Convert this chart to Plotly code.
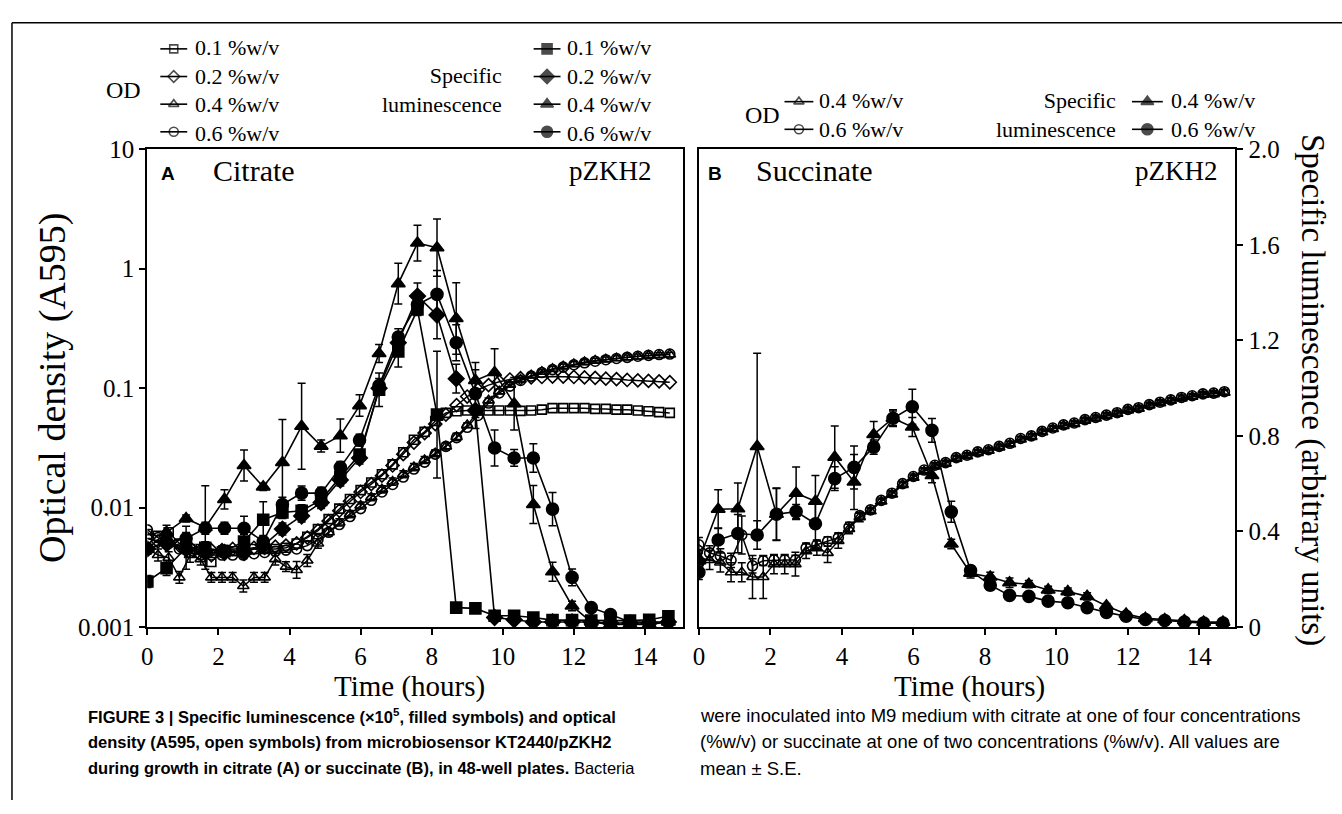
import numpy as np
import plotly.graph_objects as go

W, H = 1342, 814

# ---------------- data ----------------
lum_time = [0, 0.54, 1.09, 1.63, 2.17, 2.72, 3.26, 3.8, 4.34, 4.89, 5.43, 5.97, 6.52, 7.06,
            7.6, 8.15, 8.69, 9.23, 9.77, 10.32, 10.86, 11.4, 11.95, 12.49, 13.03, 13.58, 14.12, 14.66]
od_time = [0, 0.3, 0.6, 0.9, 1.2, 1.5, 1.8, 2.1, 2.4, 2.7, 3.0, 3.3, 3.6, 3.9, 4.2, 4.5, 4.8,
           5.1, 5.4, 5.7, 6.0, 6.3, 6.6, 6.9, 7.2, 7.5, 7.8, 8.1, 8.4, 8.7, 9.0, 9.3, 9.6, 9.9,
           10.2, 10.5, 10.8, 11.1, 11.4, 11.7, 12.0, 12.3, 12.6, 12.9, 13.2, 13.5, 13.8, 14.1,
           14.4, 14.7]

# Panel A (citrate) - optical density, open symbols
a_od_01 = [0.0060, 0.0058, 0.0062, 0.0050, 0.0045, 0.0045, 0.0035, 0.0043, 0.0043, 0.0043,
           0.0045, 0.0045, 0.0045, 0.0046, 0.0050, 0.0057, 0.0066, 0.0080, 0.0098, 0.0118,
           0.0140, 0.0162, 0.0190, 0.0230, 0.0290, 0.0370, 0.0430, 0.0530, 0.0620, 0.0640,
           0.0650, 0.0650, 0.0650, 0.0650, 0.0650, 0.0645, 0.0650, 0.0660, 0.0680, 0.0680,
           0.0680, 0.0680, 0.0670, 0.0670, 0.0660, 0.0660, 0.0650, 0.0640, 0.0630, 0.0620]
a_od_02 = [0.0055, 0.0052, 0.0050, 0.0048, 0.0046, 0.0044, 0.0044, 0.0044, 0.0045, 0.0045,
           0.0046, 0.0046, 0.0047, 0.0048, 0.0050, 0.0056, 0.0064, 0.0077, 0.0094, 0.0113,
           0.0135, 0.0157, 0.0185, 0.0225, 0.0280, 0.0350, 0.0420, 0.0500, 0.0600, 0.0720,
           0.0850, 0.0970, 0.1060, 0.1130, 0.1180, 0.1210, 0.1230, 0.1240, 0.1250, 0.1250,
           0.1240, 0.1230, 0.1220, 0.1200, 0.1190, 0.1170, 0.1160, 0.1150, 0.1140, 0.1120]
a_od_04 = [0.0045, 0.0040, 0.0038, 0.0026, 0.0040, 0.0037, 0.0026, 0.0026, 0.0026, 0.0022,
           0.0026, 0.0026, 0.0037, 0.0032, 0.0030, 0.0036, 0.0050, 0.0062, 0.0075, 0.0088,
           0.0104, 0.0122, 0.0142, 0.0165, 0.0190, 0.0218, 0.0250, 0.0285, 0.0325, 0.0390,
           0.0490, 0.0630, 0.0790, 0.0940, 0.1070, 0.1180, 0.1280, 0.1370, 0.1450, 0.1520,
           0.1590, 0.1650, 0.1700, 0.1740, 0.1780, 0.1810, 0.1840, 0.1870, 0.1890, 0.1910]
a_od_06 = [0.0065, 0.0056, 0.0050, 0.0045, 0.0042, 0.0040, 0.0040, 0.0040, 0.0040, 0.0040,
           0.0041, 0.0042, 0.0043, 0.0044, 0.0045, 0.0048, 0.0054, 0.0062, 0.0072, 0.0084,
           0.0098, 0.0115, 0.0135, 0.0156, 0.0180, 0.0210, 0.0240, 0.0280, 0.0325, 0.0385,
           0.0470, 0.0590, 0.0750, 0.0910, 0.1040, 0.1160, 0.1260, 0.1350, 0.1430, 0.1500,
           0.1570, 0.1630, 0.1680, 0.1730, 0.1770, 0.1810, 0.1850, 0.1880, 0.1910, 0.1930]
# error of OD 0.4 %w/v (decades)
a_od_04_err = [0.04, 0.05, 0.05, 0.05, 0.06, 0.05, 0.04, 0.04, 0.04, 0.05,
               0.04, 0.04, 0.05, 0.04, 0.07, 0.05, 0.04, 0.03, 0.03, 0.03,
               0.03, 0.03, 0.03, 0.03, 0.03, 0.03, 0.03, 0.03, 0.03, 0.03,
               0.02, 0.02, 0.02, 0.02, 0.02, 0.02, 0.02, 0.02, 0.02, 0.02,
               0.02, 0.02, 0.02, 0.02, 0.02, 0.02, 0.02, 0.02, 0.02, 0.02]

# Panel A - specific luminescence, filled symbols
a_lum_01 = [0.0024, 0.0031, 0.0046, 0.0046, 0.0043, 0.0052, 0.0079, 0.0091, 0.0094, 0.0116,
            0.018, 0.0278, 0.097, 0.203, 0.455, 0.060, 0.00145, 0.00143, 0.00124, 0.00124,
            0.0012, 0.00114, 0.00114, 0.00113, 0.00113, 0.00113, 0.00115, 0.00123]
a_lum_01_err = [0.05, 0.06, 0.18, 0.05, 0.05, 0.06, 0.15, 0.05, 0.05, 0.05, 0.05, 0.04, 0.14, 0.13,
                0.05, 0.53, 0.02, 0.02, 0.02, 0.02, 0.02, 0.02, 0.02, 0.02, 0.02, 0.02, 0.02, 0.02]
a_lum_02 = [0.0045, 0.0050, 0.0045, 0.0042, 0.0042, 0.0042, 0.0048, 0.0066, 0.0085, 0.011,
            0.017, 0.026, 0.100, 0.240, 0.590, 0.410, 0.120, 0.065, 0.0012, 0.00115,
            0.0011, 0.0011, 0.0011, 0.0011, 0.00108, 0.00108, 0.00108, 0.0011]
a_lum_02_err = [0.04, 0.04, 0.04, 0.04, 0.04, 0.04, 0.04, 0.05, 0.05, 0.05, 0.05, 0.05, 0.06, 0.08,
                0.11, 0.20, 0.12, 0.15, 0.02, 0.02, 0.02, 0.02, 0.02, 0.02, 0.02, 0.02, 0.02, 0.02]
a_lum_04 = [0.0045, 0.0062, 0.0081, 0.0068, 0.0117, 0.0225, 0.0149, 0.0238, 0.048, 0.0327,
            0.040, 0.0714, 0.195, 0.75, 1.64, 1.50, 0.383, 0.116, 0.135, 0.074,
            0.0106, 0.0029, 0.0015, 0.0011, 0.00105, 0.00105, 0.00105, 0.0011]
a_lum_04_err = [0.03, 0.06, 0.03, 0.35, 0.08, 0.13, 0.03, 0.36, 0.36, 0.05, 0.14, 0.09, 0.075, 0.17,
                0.15, 0.24, 0.30, 0.15, 0.20, 0.22, 0.16, 0.08, 0.04, 0.02, 0.02, 0.02, 0.02, 0.02]
a_lum_06 = [0.0045, 0.0052, 0.0055, 0.0067, 0.0067, 0.0067, 0.0052, 0.0106, 0.0132, 0.0132,
            0.0217, 0.0367, 0.105, 0.268, 0.50, 0.61, 0.24, 0.09, 0.0315, 0.026,
            0.026, 0.0097, 0.0026, 0.00145, 0.00127, 0.0011, 0.0011, 0.0011]
a_lum_06_err = [0.04, 0.05, 0.05, 0.05, 0.05, 0.10, 0.05, 0.06, 0.06, 0.05, 0.05, 0.05, 0.06, 0.07,
                0.06, 0.20, 0.15, 0.20, 0.15, 0.07, 0.12, 0.14, 0.07, 0.03, 0.02, 0.02, 0.02, 0.02]

# Panel B (succinate) - optical density, open symbols (read on right-hand scale)
b_od_04 = [0.29, 0.28, 0.27, 0.229, 0.229, 0.209, 0.209, 0.263, 0.263, 0.263,
           0.317, 0.33, 0.31, 0.36, 0.41, 0.46, 0.485, 0.525, 0.555, 0.595,
           0.625, 0.652, 0.672, 0.684, 0.705, 0.715, 0.729, 0.738, 0.752, 0.765,
           0.785, 0.796, 0.815, 0.829, 0.842, 0.85, 0.864, 0.873, 0.883, 0.893,
           0.907, 0.914, 0.927, 0.937, 0.947, 0.957, 0.964, 0.972, 0.975, 0.981]
b_od_04_err = [0.03, 0.04, 0.04, 0.04, 0.04, 0.09, 0.09, 0.04, 0.04, 0.05,
               0.03, 0.03, 0.04, 0.03, 0.02, 0.02, 0.01, 0.01, 0.01, 0.01,
               0.01, 0.01, 0.01, 0.01, 0.01, 0.01, 0.01, 0.01, 0.01, 0.01,
               0.01, 0.01, 0.01, 0.01, 0.01, 0.01, 0.01, 0.01, 0.01, 0.01,
               0.01, 0.01, 0.01, 0.01, 0.01, 0.01, 0.01, 0.01, 0.01, 0.01]
b_od_06 = [0.344, 0.31, 0.297, 0.279, 0.385, 0.256, 0.277, 0.28, 0.28, 0.28,
           0.331, 0.344, 0.358, 0.374, 0.418, 0.466, 0.49, 0.53, 0.56, 0.60,
           0.63, 0.657, 0.677, 0.688, 0.709, 0.719, 0.733, 0.742, 0.756, 0.769,
           0.789, 0.80, 0.819, 0.833, 0.846, 0.854, 0.868, 0.877, 0.887, 0.897,
           0.911, 0.918, 0.931, 0.941, 0.951, 0.961, 0.968, 0.976, 0.979, 0.985]
b_od_06_err = [0.03, 0.03, 0.03, 0.03, 0.08, 0.03, 0.02, 0.02, 0.02, 0.02,
               0.02, 0.02, 0.02, 0.02, 0.02, 0.01, 0.01, 0.01, 0.01, 0.01,
               0.01, 0.01, 0.01, 0.01, 0.01, 0.01, 0.01, 0.01, 0.01, 0.01,
               0.01, 0.01, 0.01, 0.01, 0.01, 0.01, 0.01, 0.01, 0.01, 0.01,
               0.01, 0.01, 0.01, 0.01, 0.01, 0.01, 0.01, 0.01, 0.01, 0.01]

# Panel B - specific luminescence, filled symbols
b_lum_04 = [0.277, 0.493, 0.495, 0.756, 0.472, 0.56, 0.526, 0.711, 0.607, 0.806,
            0.874, 0.837, 0.634, 0.347, 0.225, 0.209, 0.185, 0.179, 0.155, 0.148,
            0.128, 0.088, 0.054, 0.036, 0.031, 0.027, 0.020, 0.020]
b_lum_04_err = [0.03, 0.081, 0.108, 0.39, 0.108, 0.11, 0.108, 0.13, 0.115, 0.054,
                0.03, 0.04, 0.03, 0.02, 0.02, 0.02, 0.02, 0.015, 0.015, 0.015,
                0.015, 0.01, 0.01, 0.01, 0.01, 0.01, 0.01, 0.01]
b_lum_06 = [0.229, 0.364, 0.391, 0.385, 0.472, 0.483, 0.432, 0.621, 0.668, 0.753,
            0.874, 0.922, 0.823, 0.482, 0.236, 0.175, 0.132, 0.128, 0.108, 0.101,
            0.081, 0.061, 0.045, 0.031, 0.027, 0.020, 0.016, 0.016]
b_lum_06_err = [0.03, 0.05, 0.08, 0.06, 0.11, 0.03, 0.10, 0.05, 0.09, 0.03,
                0.035, 0.073, 0.05, 0.044, 0.02, 0.02, 0.015, 0.015, 0.015, 0.015,
                0.01, 0.01, 0.01, 0.01, 0.01, 0.01, 0.01, 0.01]

x_ticks = [0, 2, 4, 6, 8, 10, 12, 14]
a_y_ticks = [0.001, 0.01, 0.1, 1, 10]
a_y_labels = ["0.001", "0.01", "0.1", "1", "10"]
b_y_ticks = [0, 0.4, 0.8, 1.2, 1.6, 2.0]
b_y_labels = ["0", "0.4", "0.8", "1.2", "1.6", "2.0"]
conc_labels = ["0.1 %w/v", "0.2 %w/v", "0.4 %w/v", "0.6 %w/v"]

# ---------------- style helpers ----------------
SERIF = "Liberation Serif, Times New Roman, serif"
SANS = "Liberation Sans, Arial, sans-serif"
LEG = 22                 # legend font size
PITCH = 1.3 * LEG        # plotly line pitch for multi-line text


def px(x):
    return x / W


def py(y):
    return 1 - y / H


def log_err(vals, dec):
    v = np.array(vals, dtype=float)
    e = np.array(dec, dtype=float)
    return dict(type="data", symmetric=False, array=(v * (10 ** e - 1)).tolist(),
                arrayminus=(v * (1 - 10 ** (-e))).tolist(), color="black", thickness=1.5, width=4)


def lin_err(err):
    return dict(type="data", array=list(err), color="black", thickness=1.5, width=4)


OPEN = {"sq": ("square-open", 9), "di": ("diamond-open", 10),
        "tr": ("triangle-up-open", 10), "ci": ("circle-open", 10)}
FILL = {"sq": ("square", 11), "di": ("diamond", 12),
        "tr": ("triangle-up", 12), "ci": ("circle", 12)}


def mk(spec):
    sym, size = spec
    return dict(symbol=sym, size=size, color="black", line=dict(color="black", width=1.6))


fig = go.Figure()

# ---- Panel A traces ----
for vals, key, err in [(a_od_01, "sq", None), (a_od_02, "di", None),
                       (a_od_04, "tr", a_od_04_err), (a_od_06, "ci", None)]:
    tr = go.Scatter(x=od_time, y=vals, mode="lines+markers",
                    line=dict(color="black", width=1.5), marker=mk(OPEN[key]),
                    xaxis="x", yaxis="y", showlegend=False)
    if err:
        tr.error_y = log_err(vals, err)
    fig.add_trace(tr)
for vals, key, err in [(a_lum_01, "sq", a_lum_01_err), (a_lum_02, "di", a_lum_02_err),
                       (a_lum_04, "tr", a_lum_04_err), (a_lum_06, "ci", a_lum_06_err)]:
    fig.add_trace(go.Scatter(x=lum_time, y=vals, mode="lines+markers",
                             line=dict(color="black", width=1.6), marker=mk(FILL[key]),
                             error_y=log_err(vals, err),
                             xaxis="x", yaxis="y", showlegend=False))

# ---- Panel B traces ----
for vals, key, err in [(b_od_04, "tr", b_od_04_err), (b_od_06, "ci", b_od_06_err)]:
    fig.add_trace(go.Scatter(x=od_time, y=vals, mode="lines+markers",
                             line=dict(color="black", width=1.5), marker=mk(OPEN[key]),
                             error_y=lin_err(err), xaxis="x2", yaxis="y2", showlegend=False))
for vals, key, err in [(b_lum_04, "tr", b_lum_04_err), (b_lum_06, "ci", b_lum_06_err)]:
    fig.add_trace(go.Scatter(x=lum_time, y=vals, mode="lines+markers",
                             line=dict(color="black", width=1.6), marker=mk(FILL[key]),
                             error_y=lin_err(err), xaxis="x2", yaxis="y2", showlegend=False))

# ---- legend (keys on a hidden pixel-space overlay axis, texts as annotations) ----
A_mid = 80
B_mid = 106
A_rows = [A_mid + (i - 1.5) * PITCH for i in range(4)]
B_rows = [B_mid + (i - 0.5) * PITCH for i in range(2)]
annotations = []


def key(x0, x1, y, spec):
    sym, size = spec
    fig.add_trace(go.Scatter(x=[x0, (x0 + x1) / 2, x1], y=[y, y, y], mode="lines+markers",
                             line=dict(color="black", width=1.6),
                             marker=dict(symbol=sym, size=[0, size - 1, 0], color="black",
                                         line=dict(color="black", width=1.6)),
                             xaxis="x3", yaxis="y3", showlegend=False, hoverinfo="skip"))


def txt(x, y, s, size=27, anchor="left", family=SERIF, angle=0, yanchor="middle"):
    annotations.append(dict(x=px(x), y=py(y), xref="paper", yref="paper", text=s,
                            showarrow=False, xanchor=anchor, yanchor=yanchor, textangle=angle,
                            align=anchor if anchor in ("left", "right") else "center",
                            font=dict(family=family, size=size, color="black")))


for i, k in enumerate(["sq", "di", "tr", "ci"]):
    key(155, 182, A_rows[i], OPEN[k])
    key(530, 557, A_rows[i], FILL[k])
txt(188, A_mid, "<br>".join(conc_labels), size=LEG)
txt(562, A_mid, "<br>".join(conc_labels), size=LEG)
txt(138, A_mid, "OD", size=24, anchor="right")
txt(500, A_mid, "Specific<br>luminescence", size=LEG, anchor="right")

for i, k in enumerate(["tr", "ci"]):
    key(782, 811, B_rows[i], OPEN[k])
    key(1131, 1162, B_rows[i], FILL[k])
txt(815, B_mid, "<br>".join(conc_labels[2:]), size=LEG)
txt(1168, B_mid, "<br>".join(conc_labels[2:]), size=LEG)
txt(779, B_mid, "OD", size=24, anchor="right")
txt(1117, B_mid, "Specific<br>luminescence", size=LEG, anchor="right")

# panel labels
txt(163, 166, "<b>A</b>", size=19, anchor="center", family=SANS)
txt(206, 163, "Citrate", size=30)
txt(651, 163, "pZKH2", size=27, anchor="right")
txt(712, 166, "<b>B</b>", size=19, anchor="center", family=SANS)
txt(751, 163, "Succinate", size=30)
txt(1219, 163, "pZKH2", size=27, anchor="right")

# axis titles
txt(46, 388, "Optical density (A595)", size=38, anchor="center", angle=-90)
txt(1313, 390, "Specific luminescence (arbitrary units)", size=33, anchor="center", angle=90)
txt(405, 697, "Time (hours)", size=29, anchor="center")
txt(968, 697, "Time (hours)", size=29, anchor="center")

# caption
cap_left = ["<b>FIGURE 3 | Specific luminescence (\u00d710<sup>5</sup>, filled symbols) and optical</b>",
            "<b>density (A595, open symbols) from microbiosensor KT2440/pZKH2</b>",
            "<b>during growth in citrate (A) or succinate (B), in 48-well plates.</b> Bacteria"]
cap_right = ["were inoculated into M9 medium with citrate at one of four concentrations",
             "(%w/v) or succinate at one of two concentrations (%w/v). All values are",
             "mean \u00b1 S.E."]
for i, s in enumerate(cap_left):
    txt(80, 727 + 27 * i, s, size=16.5, family=SANS)
for i, s in enumerate(cap_right):
    txt(695, 727 + 27 * i, s, size=18.5, family=SANS)

axis_common = dict(showline=True, linecolor="black", linewidth=2, mirror=True,
                   ticks="outside", ticklen=6, tickwidth=2, tickcolor="black",
                   showgrid=False, zeroline=False,
                   tickfont=dict(family=SERIF, size=25, color="black"))

fig.update_layout(
    width=W, height=H, margin=dict(l=0, r=0, t=0, b=0),
    paper_bgcolor="white", plot_bgcolor="rgba(0,0,0,0)", showlegend=False,
    xaxis=dict(domain=[px(142), px(680)], range=[0, 15.07], anchor="y",
               tickvals=x_ticks, **axis_common),
    yaxis=dict(domain=[py(635), py(141)], type="log", range=[-3, 1], anchor="x",
               tickvals=a_y_ticks, ticktext=a_y_labels, **axis_common),
    xaxis2=dict(domain=[px(696), px(1235)], range=[0, 15.01], anchor="y2",
                tickvals=x_ticks, **axis_common),
    yaxis2=dict(domain=[py(635), py(141)], range=[0, 2.0], anchor="x2", side="right",
                tickvals=b_y_ticks, ticktext=b_y_labels, **axis_common),
    xaxis3=dict(domain=[0, 1], range=[0, W], anchor="y3", visible=False, fixedrange=True),
    yaxis3=dict(domain=[0, 1], range=[H, 0], anchor="x3", visible=False, fixedrange=True),
    annotations=annotations,
    shapes=[dict(type="line", xref="paper", yref="paper", x0=px(6), x1=px(1342),
                 y0=py(10), y1=py(10), line=dict(color="black", width=1.5)),
            dict(type="line", xref="paper", yref="paper", x0=px(6), x1=px(6),
                 y0=py(10), y1=py(814), line=dict(color="black", width=1.5))],
)

fig.write_html("out.html")
